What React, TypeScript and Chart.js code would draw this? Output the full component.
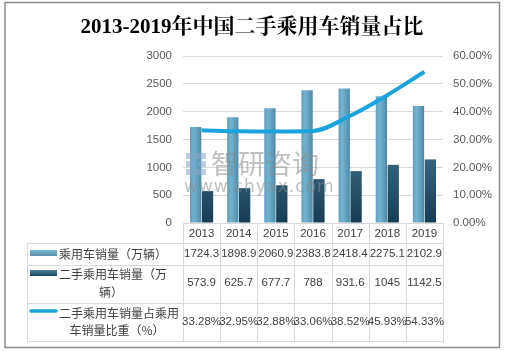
import React, { useEffect, useRef } from "react";
import { Chart, registerables } from "chart.js";
Chart.register(...registerables);

const titleText = "2013-2019年中国二手乘用车销量占比";
const years = ["2013", "2014", "2015", "2016", "2017", "2018", "2019"];
const passengerSales = [1724.3, 1898.9, 2060.9, 2383.8, 2418.4, 2275.1, 2102.9];
const usedSales = [573.9, 625.7, 677.7, 788, 931.6, 1045, 1142.5];
const usedShare = [33.28, 32.95, 32.88, 33.06, 38.52, 45.93, 54.33];
const passengerLabel = ["乘用车销量（万辆）"];
const usedLabel = ["二手乘用车销量（万", "辆）"];
const shareLabel = ["二手乘用车销量占乘用", "车销量比重（%）"];
const watermarkCn = "智研咨询";
const watermarkEn = "www.chyxx.com";

const GRID = "#d9d9d9";
const TEXT = "#404040";
const NUM_FONT = "11.5px 'Liberation Sans', Arial, sans-serif";
const CJK_FONT = "12px 'Noto Sans CJK SC', sans-serif";

const lightFill = (c: any) => {
  const chart = c.chart;
  const area = chart.chartArea;
  if (!area || c.dataIndex === undefined) return "#64a3c2";
  const xc = chart.scales.x.getPixelForValue(c.dataIndex);
  const w = ((area.right - area.left) / years.length) * 0.64 / 2;
  const g = chart.ctx.createLinearGradient(xc - w, 0, xc, 0);
  g.addColorStop(0, "#5f9fbd");
  g.addColorStop(0.35, "#73b3d1");
  g.addColorStop(0.8, "#5a97b4");
  g.addColorStop(1, "#4a819c");
  return g;
};

const darkFill = (c: any) => {
  const chart = c.chart;
  const area = chart.chartArea;
  if (!area) return "#2f5f7a";
  const g = chart.ctx.createLinearGradient(0, area.top + 60, 0, area.bottom);
  g.addColorStop(0, "#4d7f9b");
  g.addColorStop(1, "#153d54");
  return g;
};

const tablePlugin = {
  id: "tablePlugin",
  beforeDraw(chart: any) {
    const ctx = chart.ctx;
    ctx.save();
    ctx.fillStyle = "#ffffff";
    ctx.fillRect(0, 0, chart.width, chart.height);
    ctx.restore();
  },
  afterDatasetsDraw(chart: any) {
    const ctx = chart.ctx;
    ctx.save();
    // watermark
    ctx.globalAlpha = 0.55;
    ctx.fillStyle = "#8aa6c4";
    ctx.fillRect(186, 153, 6, 6);
    ctx.fillRect(186, 161, 6, 6);
    ctx.fillRect(186, 169, 6, 6);
    ctx.fillRect(194, 153, 12, 6);
    ctx.fillRect(198, 161, 8, 6);
    ctx.fillRect(194, 169, 12, 6);
    ctx.fillStyle = "#8c8c8c";
    ctx.font = "27px 'Noto Sans CJK SC', sans-serif";
    ctx.textAlign = "left";
    ctx.textBaseline = "middle";
    ctx.fillText(watermarkCn, 211, 164);
    ctx.font = "17px 'DejaVu Sans', sans-serif";
    (ctx as any).letterSpacing = "1px";
    ctx.fillText(watermarkEn, 184, 188);
    (ctx as any).letterSpacing = "0px";
    ctx.restore();
  },
  afterDraw(chart: any) {
    const ctx = chart.ctx;
    const area = chart.chartArea;
    const xs = chart.scales.x;
    const n = years.length;
    const cw = (area.right - area.left) / n;
    const tableLeft = 27;
    const rows = [243, 265, 303, 341];
    ctx.save();
    // title
    ctx.fillStyle = "#000000";
    ctx.font = "bold 21px 'Liberation Serif', 'Noto Serif CJK SC', 'Noto Sans CJK SC', serif";
    ctx.textAlign = "center";
    ctx.textBaseline = "middle";
    ctx.fillText(titleText, 252, 28);

    // table lines
    ctx.strokeStyle = GRID;
    ctx.lineWidth = 1;
    ctx.beginPath();
    for (let i = 0; i <= n; i++) {
      const x = Math.round(area.left + i * cw) + 0.5;
      ctx.moveTo(x, area.bottom);
      ctx.lineTo(x, rows[rows.length - 1]);
    }
    ctx.moveTo(tableLeft + 0.5, rows[0]);
    ctx.lineTo(tableLeft + 0.5, rows[rows.length - 1]);
    rows.forEach((y) => {
      ctx.moveTo(tableLeft, y + 0.5);
      ctx.lineTo(Math.round(area.right) + 1, y + 0.5);
    });
    ctx.stroke();

    // legend swatches
    let g = ctx.createLinearGradient(0, 250, 0, 257);
    g.addColorStop(0, "#7bb8d5");
    g.addColorStop(1, "#4f88a4");
    ctx.fillStyle = g;
    ctx.fillRect(30, 250, 27, 6);
    g = ctx.createLinearGradient(0, 270, 0, 277);
    g.addColorStop(0, "#4d7f9b");
    g.addColorStop(1, "#153d54");
    ctx.fillStyle = g;
    ctx.fillRect(30, 270, 27, 6);
    ctx.strokeStyle = "#1aa3dc";
    ctx.lineWidth = 3.5;
    ctx.lineCap = "round";
    ctx.beginPath();
    ctx.moveTo(31, 311);
    ctx.lineTo(56, 311);
    ctx.stroke();

    // row labels
    ctx.fillStyle = TEXT;
    ctx.font = CJK_FONT;
    ctx.textBaseline = "middle";
    ctx.textAlign = "left";
    ctx.fillText(passengerLabel[0], 59, 254);
    ctx.fillText(usedLabel[0], 59, 274);
    ctx.fillText(shareLabel[0], 59, 313);
    ctx.textAlign = "center";
    ctx.fillText(usedLabel[1], 111, 292);
    ctx.fillText(shareLabel[1], 117, 330);

    // values
    ctx.font = NUM_FONT;
    ctx.textAlign = "center";
    for (let i = 0; i < n; i++) {
      const x = xs.getPixelForValue(i);
      ctx.fillText(passengerSales[i].toFixed(1), x, 254);
      ctx.fillText(String(usedSales[i]), x, 283);
      ctx.fillText(usedShare[i].toFixed(2) + "%", x, 322);
    }

    // outer border
    ctx.strokeStyle = "#8c8c8c";
    ctx.lineWidth = 1.5;
    ctx.strokeRect(5, 2.5, 494.5, 345);
    ctx.restore();
  },
};

export default function App() {
  const ref = useRef<HTMLCanvasElement>(null);
  useEffect(() => {
    if (!ref.current) return;
    const chart = new Chart(ref.current, {
      type: "bar",
      data: {
        labels: years,
        datasets: [
          {
            type: "line",
            label: shareLabel.join(""),
            data: usedShare,
            yAxisID: "y1",
            borderColor: "#1aa3dc",
            borderWidth: 4,
            pointRadius: 0,
            cubicInterpolationMode: "monotone",
            fill: false,
            order: 0,
          } as any,
          {
            type: "bar",
            label: passengerLabel.join(""),
            data: passengerSales,
            yAxisID: "y",
            backgroundColor: lightFill,
            borderWidth: 0,
            categoryPercentage: 0.64,
            barPercentage: 0.95,
            order: 1,
          } as any,
          {
            type: "bar",
            label: usedLabel.join(""),
            data: usedSales,
            yAxisID: "y",
            backgroundColor: darkFill,
            borderWidth: 0,
            categoryPercentage: 0.64,
            barPercentage: 0.95,
            order: 1,
          } as any,
        ],
      },
      options: {
        animation: false,
        responsive: false,
        devicePixelRatio: 1,
        layout: { padding: { top: 56, left: 0, right: 0, bottom: 0 } },
        plugins: {
          legend: { display: false },
          title: { display: false },
          tooltip: { enabled: false },
        },
        scales: {
          x: {
            grid: { display: false, drawTicks: false },
            border: { display: true, color: GRID },
            ticks: {
              color: TEXT,
              padding: 4,
              font: { family: "'Liberation Sans', Arial, sans-serif", size: 11.5 },
            },
            afterFit: (s: any) => {
              s.height = 128;
            },
          },
          y: {
            position: "left",
            min: 0,
            max: 3000,
            ticks: {
              stepSize: 500,
              color: "#595959",
              padding: 11,
              font: { family: "'Liberation Sans', Arial, sans-serif", size: 11.5 },
              callback: (v: any) => String(v),
            },
            grid: { color: GRID, drawTicks: false },
            border: { display: false },
            afterFit: (s: any) => {
              s.width = 183;
            },
          },
          y1: {
            position: "right",
            min: 0,
            max: 60,
            ticks: {
              stepSize: 10,
              color: "#595959",
              padding: 10,
              font: { family: "'Liberation Sans', Arial, sans-serif", size: 11.5 },
              callback: (v: any) => Number(v).toFixed(2) + "%",
            },
            grid: { display: false, drawTicks: false },
            border: { display: false },
            afterFit: (s: any) => {
              s.width = 62;
            },
          },
        },
      },
      plugins: [tablePlugin],
    });
    return () => chart.destroy();
  }, []);
  return (
    <div style={{ position: "absolute", left: 0, top: 0, width: 505, height: 351 }}>
      <canvas ref={ref} width={505} height={351} style={{ display: "block" }} />
    </div>
  );
}
